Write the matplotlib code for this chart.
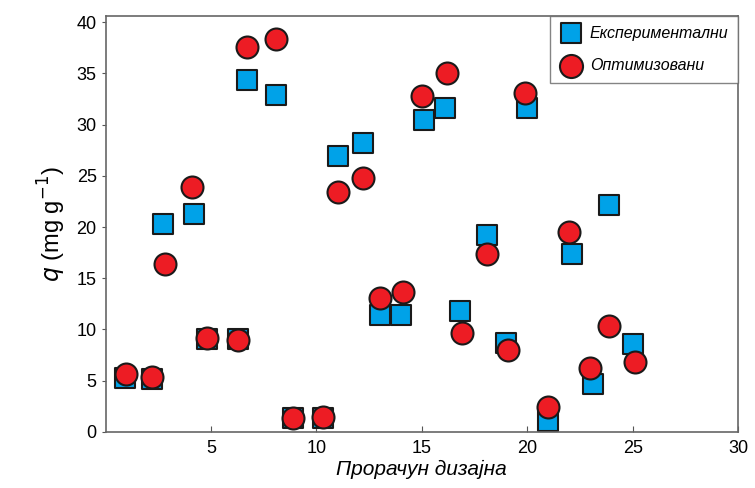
import matplotlib.pyplot as plt

# run numbers and adsorbed amounts q
run_exp = [0.9, 2.2, 2.7, 4.2, 4.8, 6.3, 6.7, 8.1, 8.9, 10.3, 11.0, 12.2, 13.0, 14.0,
           15.1, 16.1, 16.8, 18.1, 19.0, 20.0, 21.0, 22.1, 23.1, 23.9, 25.0]
q_exp = [5.3, 5.2, 20.3, 21.3, 9.1, 9.1, 34.4, 32.9, 1.4, 1.4, 26.9, 28.2, 11.4, 11.4,
         30.5, 31.6, 11.8, 19.2, 8.7, 31.6, 1.1, 17.4, 4.7, 22.2, 8.6]

run_opt = [0.95, 2.2, 2.8, 4.1, 4.8, 6.3, 6.7, 8.1, 8.9, 10.3, 11.0, 12.2, 13.0, 14.1,
           15.0, 16.2, 16.9, 18.1, 19.1, 19.9, 21.0, 22.0, 23.0, 23.9, 25.1]
q_opt = [5.7, 5.4, 16.4, 23.9, 9.2, 9.0, 37.6, 38.4, 1.4, 1.5, 23.4, 24.8, 13.1, 13.7,
         32.8, 35.0, 9.7, 17.4, 8.0, 33.1, 2.4, 19.5, 6.2, 10.3, 6.8]

plt.rcParams['font.family'] = ['Liberation Sans', 'DejaVu Sans']

fig = plt.figure(figsize=(7.55, 4.88), dpi=100)
ax = fig.add_axes([0.140, 0.115, 0.8375, 0.852])

ax.scatter(run_exp, q_exp, marker='s', s=190, color='#00A2E8', edgecolor='#1a1a1a',
           linewidth=1.5, zorder=2, label='Експериментални')
ax.scatter(run_opt, q_opt, marker='o', s=250, color='#ED1C24', edgecolor='#1a1a1a',
           linewidth=1.5, zorder=3, label='Оптимизовани')

ax.set_xlim(0, 30)
ax.set_ylim(0, 40.6)
ax.set_xticks([5, 10, 15, 20, 25, 30])
ax.set_yticks([0, 5, 10, 15, 20, 25, 30, 35, 40])
ax.tick_params(axis='x', direction='in', length=4, labelsize=13, color='#555555', pad=6)
ax.tick_params(axis='y', direction='out', length=3, labelsize=13, color='#555555')
for sp in ax.spines.values():
    sp.set_color('#666666')
    sp.set_linewidth(1.2)

ax.set_xlabel('Прорачун дизајна', fontsize=15, style='italic', labelpad=2)
ax.set_ylabel(r'$q$ (mg g$^{-1}$)', fontsize=17, labelpad=6)

leg = ax.legend(loc='upper right', prop={'style': 'italic', 'size': 11.5},
                frameon=True, fancybox=False, borderaxespad=0, handletextpad=0.4,
                handlelength=1.5, borderpad=0.6, labelspacing=1.1, markerscale=1.05)
leg.get_frame().set_edgecolor('#666666')
leg.get_frame().set_linewidth(1.0)

fig.savefig('out.png', dpi=100)
